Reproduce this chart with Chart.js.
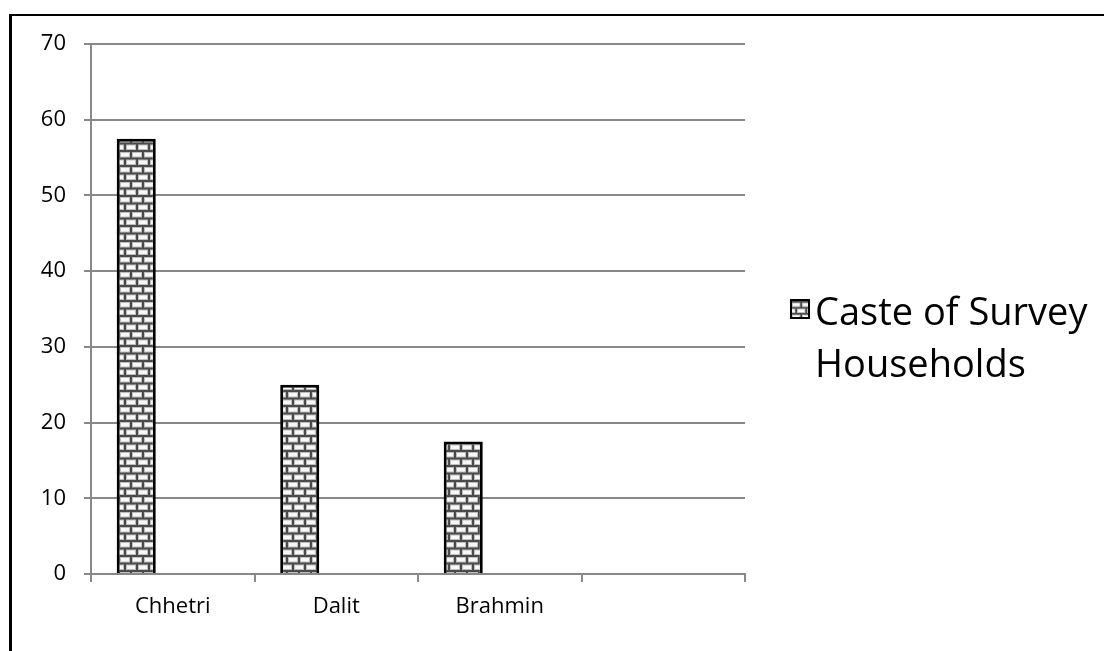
<!DOCTYPE html>
<html>
<head>
<meta charset="utf-8">
<title>Caste of Survey Households</title>
<script src="https://cdn.jsdelivr.net/npm/chart.js@4.4.1/dist/chart.umd.min.js"></script>
<style>
    html, body { margin: 0; padding: 0; background: #fff; overflow: hidden; }
    #wrap { position: relative; width: 1104px; height: 651px; }
    #frame {
        position: absolute; left: 9px; top: 14px; width: 1200px; height: 800px;
        border-left: 3px solid #000; border-top: 2px solid #000;
    }
    #chart { position: absolute; left: 0; top: 0; }
    #legend {
        position: absolute; left: 790px; top: 284px; width: 310px;
        font-family: 'Open Sans', sans-serif; font-size: 38px; line-height: 52px; color: #000;
    }
    #legend .box {
        position: absolute; left: 0; top: 15px; width: 16px; height: 16px;
        border: 2px solid #000;
    }
    #legend .text { padding-left: 25px; }
</style>
</head>
<body>
<div id="wrap">
    <div id="frame"></div>
    <canvas id="chart" width="1104" height="651"></canvas>
    <div id="legend"><div class="box"></div><div class="text"></div></div>
</div>
<script>
const categories = ['Chhetri', 'Dalit', 'Brahmin', ''];
const seriesName = 'Caste of Survey Households';
const households = [57.5, 25, 17.5, null];
const yTicks = [0, 10, 20, 30, 40, 50, 60, 70];

const gridColor = '#888888';
const labelFont = { family: "'Open Sans', sans-serif", size: 22 };

// brick tile used for the bars and the legend swatch
function brickTile() {
    let c = document.createElement('canvas');
    c.width = 12;
    c.height = 15;
    let g = c.getContext('2d');
    g.fillStyle = '#4a4a4a';
    g.fillRect(0, 0, 12, 15);
    let bricks = [[0, 2, 10, 5.5], [-6, 9.5, 10, 5.5], [6, 9.5, 10, 5.5]];
    bricks.forEach(b => {
        g.fillStyle = '#bdbdbd';
        g.fillRect(b[0], b[1], b[2], b[3]);
        g.fillStyle = '#f8f8f8';
        g.fillRect(b[0] + 1, b[1] + 1, b[2] - 2, b[3] - 2);
    });
    return c;
}

const tile = brickTile();
const ctx = document.getElementById('chart').getContext('2d');
const bricks = ctx.createPattern(tile, 'repeat');

// legend drawn as html so the long label can wrap
document.querySelector('#legend .text').textContent = seriesName;
let box = document.querySelector('#legend .box');
box.style.backgroundImage = `url(${tile.toDataURL()})`;
box.style.backgroundSize = '10px 12px';

new Chart(ctx, {
    type: 'bar',
    data: {
        labels: categories,
        datasets: [{
            label: seriesName,
            data: households,
            backgroundColor: bricks,
            borderColor: '#000',
            borderWidth: 3
        }, {
            // empty series keep the slot layout of the grouped bars
            label: 'spacer1',
            data: []
        }, {
            label: 'spacer2',
            data: []
        }]
    },
    options: {
        responsive: false,
        animation: false,
        devicePixelRatio: 1,
        layout: {
            padding: { top: 44, right: 359, left: 0, bottom: 0 }
        },
        datasets: {
            bar: {
                categoryPercentage: 0.67,
                barPercentage: 1.07
            }
        },
        plugins: {
            legend: { display: false },
            tooltip: { enabled: false }
        },
        scales: {
            x: {
                offset: true,
                grid: {
                    offset: true,
                    drawOnChartArea: false,
                    color: gridColor,
                    lineWidth: 2,
                    tickLength: 8
                },
                border: { color: gridColor, width: 2 },
                ticks: { color: '#000', font: labelFont, padding: 12 },
                afterFit: scale => { scale.height = 77; }
            },
            y: {
                min: 0,
                max: 70,
                afterBuildTicks: scale => {
                    scale.ticks = yTicks.map(v => ({ value: v }));
                },
                grid: {
                    color: gridColor,
                    lineWidth: 2,
                    tickLength: 7
                },
                border: { color: gridColor, width: 2 },
                ticks: { color: '#000', font: labelFont, padding: 18 },
                afterFit: scale => { scale.width = 91; }
            }
        }
    }
});
</script>
</body>
</html>
